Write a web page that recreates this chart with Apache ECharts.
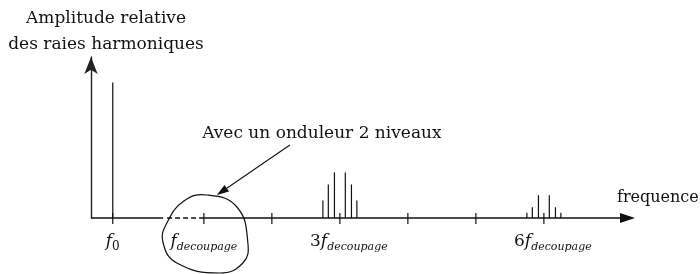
<!DOCTYPE html>
<html>
<head>
<meta charset="utf-8">
<script src="https://cdn.jsdelivr.net/npm/echarts@6/dist/echarts.min.js"></script>
<style>
  html, body { margin: 0; padding: 0; background: #fff; }
  #chart { width: 700px; height: 274px; }
</style>
</head>
<body>
<div id="chart"></div>
<script>
// axe des fréquences, en multiples de f_decoupage
const xMin = -0.66
const xMax = 7.34
const yMax = 1.2

const tickPos = [-0.34, 1, 2, 3, 4, 5, 6]
const labelPos = [-0.34, 1, 3, 6]
const labelText = [
  '{f|f}{s0|0}',
  '{f|f}{s|decoupage}',
  '{sp|}{n|3}{f|f}{s|decoupage}',
  '{sp|}{n|6}{f|f}{s|decoupage}'
]

// raies : [frequence, amplitude]
const fondamental = [[-0.34, 1.01]]
const raies3 = [[2.75, 0.13], [2.83, 0.25], [2.92, 0.34], [3.08, 0.34], [3.17, 0.25], [3.25, 0.13]]
const raies6 = [[5.75, 0.04], [5.83, 0.08], [5.92, 0.17], [6.08, 0.17], [6.17, 0.08], [6.25, 0.04]]

// portion en pointillés de l'axe
const dashStart = 0.4
const dashEnd = 1

const serif = '"DejaVu Serif", "Liberation Serif", serif'
const ink = '#111'

const myChart = echarts.init(document.getElementById('chart'))

const option = {
  animation: false,
  grid: { left: 91, right: 65, top: 57, bottom: 56, containLabel: false, outerBoundsMode: 'none' },
  xAxis: {
    type: 'value',
    min: xMin,
    max: xMax,
    name: 'frequence',
    nameLocation: 'end',
    nameGap: -18,
    nameTextStyle: {
      fontFamily: serif, fontSize: 16, color: ink,
      align: 'left', verticalAlign: 'bottom', lineHeight: 16,
      padding: [0, 0, 12, 0]
    },
    axisLine: { show: false },
    axisTick: { show: false },
    splitLine: { show: false },
    axisLabel: {
      customValues: labelPos,
      margin: 15,
      color: ink,
      formatter: function (v) {
        for (let i = 0; i < labelPos.length; i++) {
          if (Math.abs(labelPos[i] - v) < 1e-6) return labelText[i]
        }
        return ''
      },
      rich: {
        f: { fontFamily: serif, fontStyle: 'italic', fontSize: 17, lineHeight: 20, verticalAlign: 'top', color: ink },
        n: { fontFamily: serif, fontSize: 17, lineHeight: 20, verticalAlign: 'top', color: ink },
        s: { fontFamily: serif, fontStyle: 'italic', fontSize: 11, lineHeight: 12, verticalAlign: 'bottom', color: ink },
        s0: { fontFamily: serif, fontSize: 12, lineHeight: 12, verticalAlign: 'bottom', color: ink },
        sp: { width: 18 }
      }
    }
  },
  yAxis: {
    type: 'value',
    min: 0,
    max: yMax,
    name: 'Amplitude relative\ndes raies harmoniques',
    nameLocation: 'end',
    nameGap: -1,
    nameTextStyle: {
      fontFamily: serif, fontSize: 17, color: ink,
      align: 'center', verticalAlign: 'bottom', lineHeight: 26,
      padding: [0, 0, 0, 30]
    },
    axisLine: {
      show: true,
      onZero: false,
      symbol: ['none', 'arrow'],
      symbolSize: [10, 17],
      lineStyle: { color: '#222', width: 1.4 }
    },
    axisTick: { show: false },
    axisLabel: { show: false },
    splitLine: { show: false }
  },
  series: [
    {
      // axe horizontal avec la partie en pointillés
      type: 'custom',
      data: [[0, 0]],
      silent: true,
      renderItem: function (params, api) {
        const a = api.coord([xMin, 0])
        const b = api.coord([dashStart, 0])
        const c = api.coord([dashEnd, 0])
        const d = api.coord([xMax, 0])
        return {
          type: 'group',
          children: [
            { type: 'line', shape: { x1: a[0], y1: a[1], x2: b[0], y2: b[1] }, style: { stroke: ink, lineWidth: 1.3 } },
            { type: 'line', shape: { x1: b[0] + 4, y1: b[1], x2: c[0], y2: c[1] }, style: { stroke: ink, lineWidth: 1.3, lineDash: [5, 3] } },
            { type: 'line', shape: { x1: c[0], y1: c[1], x2: d[0] - 12, y2: d[1] }, style: { stroke: ink, lineWidth: 1.3 } },
            { type: 'polygon', shape: { points: [[d[0], d[1]], [d[0] - 15, d[1] - 5], [d[0] - 15, d[1] + 5]] }, style: { fill: ink } }
          ]
        }
      }
    },
    {
      // graduations
      type: 'custom',
      data: tickPos.map(x => [x, 0]),
      silent: true,
      renderItem: function (params, api) {
        const p = api.coord([api.value(0), 0])
        return { type: 'line', shape: { x1: p[0], y1: p[1] - 5, x2: p[0], y2: p[1] + 6 }, style: { stroke: ink, lineWidth: 1.2 } }
      }
    },
    {
      // raies
      type: 'custom',
      data: fondamental.concat(raies3, raies6),
      silent: true,
      renderItem: function (params, api) {
        const top = api.coord([api.value(0), api.value(1)])
        const base = api.coord([api.value(0), 0])
        return { type: 'line', shape: { x1: top[0], y1: top[1], x2: base[0], y2: base[1] }, style: { stroke: ink, lineWidth: 1.2 } }
      }
    },
    {
      // annotation : bulle autour de f_decoupage + flèche + texte
      type: 'custom',
      data: [[dashEnd, 0]],
      silent: true,
      renderItem: function (params, api) {
        const p = api.coord([api.value(0), api.value(1)])
        const x = p[0], y = p[1]
        const blob = [[3, -23], [33, -11], [44, 25], [39, 45], [16, 55], [-27, 45], [-41, 24], [-37, 5], [-20, -17]]
          .map(q => [x + q[0], y + q[1]])
        const s = [x + 86, y - 73], t = [x + 13, y - 23]
        const dx = t[0] - s[0], dy = t[1] - s[1]
        const len = Math.sqrt(dx * dx + dy * dy)
        const ux = dx / len, uy = dy / len
        const bx = t[0] - 12 * ux, by = t[1] - 12 * uy
        return {
          type: 'group',
          children: [
            { type: 'polygon', shape: { points: blob, smooth: 0.45 }, style: { fill: 'none', stroke: ink, lineWidth: 1.2 } },
            { type: 'line', shape: { x1: s[0], y1: s[1], x2: bx, y2: by }, style: { stroke: ink, lineWidth: 1.1 } },
            { type: 'polygon', shape: { points: [t, [bx - 4 * uy, by + 4 * ux], [bx + 4 * uy, by - 4 * ux]] }, style: { fill: ink } },
            {
              type: 'text',
              style: {
                text: 'Avec un onduleur 2 niveaux',
                x: x + 118, y: y - 84,
                align: 'center', verticalAlign: 'middle',
                font: '17px ' + serif,
                fill: ink
              }
            }
          ]
        }
      }
    }
  ]
}

option && myChart.setOption(option)
</script>
</body>
</html>
